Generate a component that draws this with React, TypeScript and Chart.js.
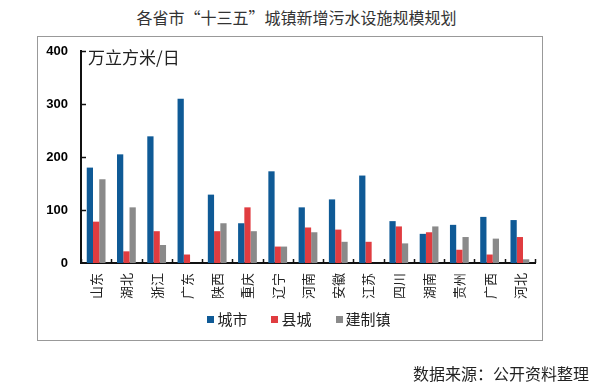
import React, { useEffect, useRef } from "react";
import { Chart, registerables } from "chart.js";

Chart.register(...registerables);

const categories = ["山东", "湖北", "浙江", "广东", "陕西", "重庆", "辽宁", "河南", "安徽", "江苏", "四川", "湖南", "贵州", "广西", "河北"];
const cityValues = [180, 205, 239, 310, 129, 75, 173, 105, 120, 165, 79, 55, 72, 87, 81];
const countyValues = [78, 22, 60, 16, 60, 105, 31, 67, 63, 40, 69, 58, 25, 16, 49];
const townValues = [158, 105, 34, 0, 75, 60, 31, 58, 40, 0, 37, 69, 49, 46, 7];
const seriesNames = ["城市", "县城", "建制镇"];
const seriesColors = ["#0F5A96", "#E03C40", "#8A8A8A"];
const yTicks = [0, 100, 200, 300, 400];

const FONT = "'Noto Sans CJK SC', 'Noto Sans', sans-serif";

const innerTicks = {
  id: "innerTicks",
  afterDraw(chart: any) {
    const ctx = chart.ctx;
    const x = chart.scales.x;
    const y = chart.scales.y;
    ctx.save();
    ctx.strokeStyle = "#111";
    ctx.lineWidth = 1.5;
    // y ticks pointing right
    yTicks.forEach((v) => {
      if (v === 0) return;
      const py = Math.round(y.getPixelForValue(v)) + 0.5;
      ctx.beginPath();
      ctx.moveTo(x.left, py);
      ctx.lineTo(x.left + 5, py);
      ctx.stroke();
    });
    // x boundary ticks pointing up
    const n = categories.length;
    for (let i = 0; i <= n; i++) {
      const px = Math.round(x.getPixelForValue(i - 0.5)) + 0.5;
      const base = y.getPixelForValue(0);
      ctx.beginPath();
      ctx.moveTo(px, base);
      ctx.lineTo(px, base - 4);
      ctx.stroke();
    }
    ctx.restore();
  },
};

export default function App() {
  const ref = useRef<HTMLCanvasElement>(null);

  useEffect(() => {
    if (!ref.current) return;
    const values = [cityValues, countyValues, townValues];
    const chart = new Chart(ref.current, {
      type: "bar",
      data: {
        labels: categories,
        datasets: seriesNames.map((name, i) => ({
          label: name,
          data: values[i],
          backgroundColor: seriesColors[i],
          borderWidth: 0,
          barPercentage: 1.0,
          categoryPercentage: 0.62,
        })),
      },
      options: {
        responsive: false,
        animation: false,
        layout: { padding: { left: 37, right: 58, top: 51, bottom: 88 } },
        plugins: {
          legend: { display: false },
          title: { display: false },
          tooltip: { enabled: false },
        },
        scales: {
          x: {
            grid: { display: false, drawTicks: false },
            border: { display: true, color: "#111", width: 2 },
            ticks: {
              minRotation: 90,
              maxRotation: 90,
              autoSkip: false,
              padding: 10,
              color: "#222",
              font: { family: FONT, size: 13 },
            },
            afterFit(scale: any) {
              scale.height = 40;
            },
          },
          y: {
            min: 0,
            max: 400,
            grid: { display: false, drawTicks: false },
            border: { display: true, color: "#111", width: 2 },
            ticks: {
              stepSize: 100,
              padding: 13,
              color: "#000",
              font: { family: "'Liberation Sans', Arial, sans-serif", size: 13, weight: "bold" },
            },
            afterFit(scale: any) {
              scale.width = 44;
            },
          },
        },
      },
      plugins: [innerTicks],
    });
    return () => chart.destroy();
  }, []);

  return (
    <div style={{ position: "absolute", left: 0, top: 0, width: 593, height: 391, background: "#fff", fontFamily: FONT }}>
      <div style={{ position: "absolute", left: 0, top: 6, width: 593, textAlign: "center", fontSize: 16, color: "#333", lineHeight: "22px" }}>
        各省市“十三五”城镇新增污水设施规模规划
      </div>
      <div style={{ position: "absolute", left: 37, top: 36, width: 504, height: 303, border: "1px solid #999" }} />
      <canvas ref={ref} width={593} height={391} style={{ position: "absolute", left: 0, top: 0 }} />
      <div style={{ position: "absolute", left: 88, top: 46, fontSize: 17, color: "#222", lineHeight: "22px" }}>万立方米/日</div>
      <div style={{ position: "absolute", left: 0, top: 308, width: 598, display: "flex", justifyContent: "center", gap: 24, fontSize: 15, color: "#222", lineHeight: "22px" }}>
        {seriesNames.map((name, i) => (
          <div key={name} style={{ display: "flex", alignItems: "center" }}>
            <span style={{ display: "inline-block", width: 7, height: 7, background: seriesColors[i], marginRight: 3 }} />
            <span>{name}</span>
          </div>
        ))}
      </div>
      <div style={{ position: "absolute", right: 4, top: 362, fontSize: 16, color: "#222", lineHeight: "22px" }}>数据来源：公开资料整理</div>
    </div>
  );
}
